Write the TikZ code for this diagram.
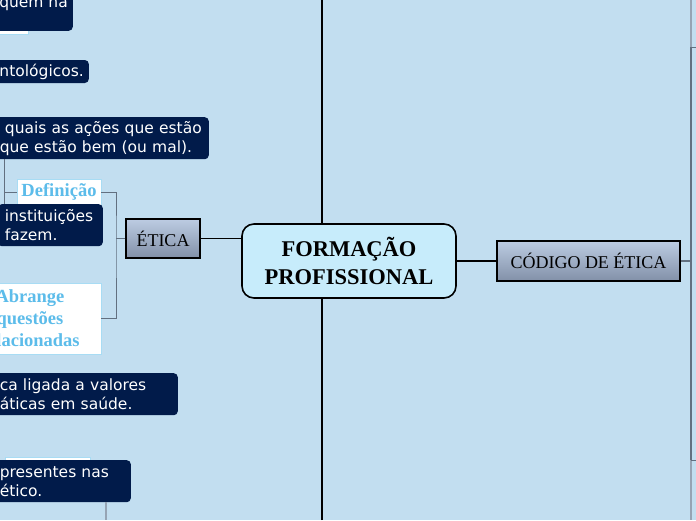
\documentclass[tikz,border=0pt]{standalone}
\usepackage{fontspec}
\setmainfont{Liberation Serif}
\newfontfamily\notefont{DejaVu Sans}

\definecolor{bgblue}{RGB}{194,222,240}
\definecolor{navy}{RGB}{1,27,74}
\definecolor{mainfill}{RGB}{199,236,251}
\definecolor{linkgray}{RGB}{98,112,128}
\definecolor{stemgray}{RGB}{150,164,180}
\definecolor{titleblue}{RGB}{92,188,234}
\definecolor{paleedge}{RGB}{168,220,244}
\definecolor{gradtop}{RGB}{188,204,226}
\definecolor{gradbot}{RGB}{130,144,168}

\tikzset{
  mainbox/.style={draw=black, line width=1.6pt, fill=mainfill, rounded corners=12pt,
    font=\bfseries\fontsize{22.5}{28}\selectfont, align=center,
    minimum width=214pt, minimum height=74pt},
  topicbox/.style={draw=black, line width=1.3pt, top color=gradtop, bottom color=gradbot,
    font=\fontsize{18}{22}\selectfont, inner sep=2pt},
  labelbox/.style={draw=paleedge, fill=white, text=titleblue, inner sep=2pt,
    font=\bfseries\fontsize{18.5}{22}\selectfont, align=center},
  notebox/.style={fill=navy, rounded corners=4pt, text=white, align=left,
    font=\notefont\fontsize{15.5}{19}\selectfont, inner xsep=7pt, inner ysep=3pt,
    minimum height=42pt},
  mainlink/.style={black, line width=1.6pt},
  sublink/.style={linkgray, line width=1pt},
  stemlink/.style={stemgray, line width=1.5pt}
}

\begin{document}
\begin{tikzpicture}[x=1pt,y=-1pt]
\useasboundingbox (0,0) rectangle (696,520);
\clip (0,0) rectangle (696,520);
\fill[bgblue] (0,0) rectangle (696,520);

\fill[white, draw=paleedge] (-10,18) rectangle (28,34);
\fill[white, draw=paleedge] (5,457) rectangle (90,470);

\node[mainbox] (prof) at (349,261) {FORMAÇÃO\\PROFISSIONAL};
\node[topicbox, minimum width=74pt, minimum height=39pt] (etica) at (163,238.5) {ÉTICA};
\node[topicbox, minimum width=183pt, minimum height=40pt] (codigo) at (588.5,261) {CÓDIGO DE ÉTICA};

\node[labelbox, minimum width=84pt, minimum height=26pt] (defin) at (59,192) {Definição};
\node[labelbox, minimum width=142pt, minimum height=71pt] (abrange) at (30,318.5) {Abrange\\questões\\relacionadas};

\node[notebox, anchor=south east, minimum height=52pt, inner xsep=5pt] (quem) at (73,31) {quem na};
\node[notebox, anchor=east, minimum height=23pt, inner xsep=5pt] (ontol) at (89,71.5) {ontológicos.};
\node[notebox, anchor=north east, text width=202pt] (acoes) at (209,117) {~quais as ações que estão\\que estão bem (ou mal).};
\node[notebox, anchor=north east, text width=91pt] (instit) at (103,204) {instituições\\fazem.};
\node[notebox, anchor=north east, text width=171pt] (valores) at (178,373) {ca ligada a valores\\áticas em saúde.};
\node[notebox, anchor=north east, text width=124pt] (presentes) at (131,460) {presentes nas\\ético.};

\coordinate (spinetop) at (322,0);
\coordinate (spinebot) at (322,520);
\draw[mainlink] (spinetop) -- (spinetop |- prof.north);
\draw[mainlink] (spinebot) -- (spinebot |- prof.south);
\draw[mainlink] (etica.east) -- (etica.east -| prof.west);
\draw[mainlink] (prof.east) -- (codigo.west);

\coordinate (eticafork) at (116,238.5);
\draw[sublink] (etica.west) -- (eticafork);
\draw[sublink] (defin.east) -| (eticafork) |- (abrange.east);

\coordinate (definfork) at (4,192);
\draw[sublink] (definfork |- acoes.south) -- (definfork |- instit.north);
\draw[sublink] (definfork) -- (defin.west);

\coordinate (presstem) at (106,520);
\draw[stemlink] (presstem |- presentes.south) -- (presstem);

\coordinate (codfork) at (691,261);
\coordinate (codtop) at (691,47);
\coordinate (codbot) at (691,460);
\draw[stemlink] (codtop) -- (codtop |- 0,0);
\draw[stemlink] (codbot) -- (codbot |- 0,520);
\draw[sublink, line width=1.5pt] (codigo.east) -- (codfork);
\draw[sublink, line width=1.8pt] (codtop) -- (codbot);
\draw[sublink] (codtop) -- (codtop -| 700,0);
\draw[sublink] (codbot) -- (codbot -| 700,0);
\end{tikzpicture}
\end{document}
